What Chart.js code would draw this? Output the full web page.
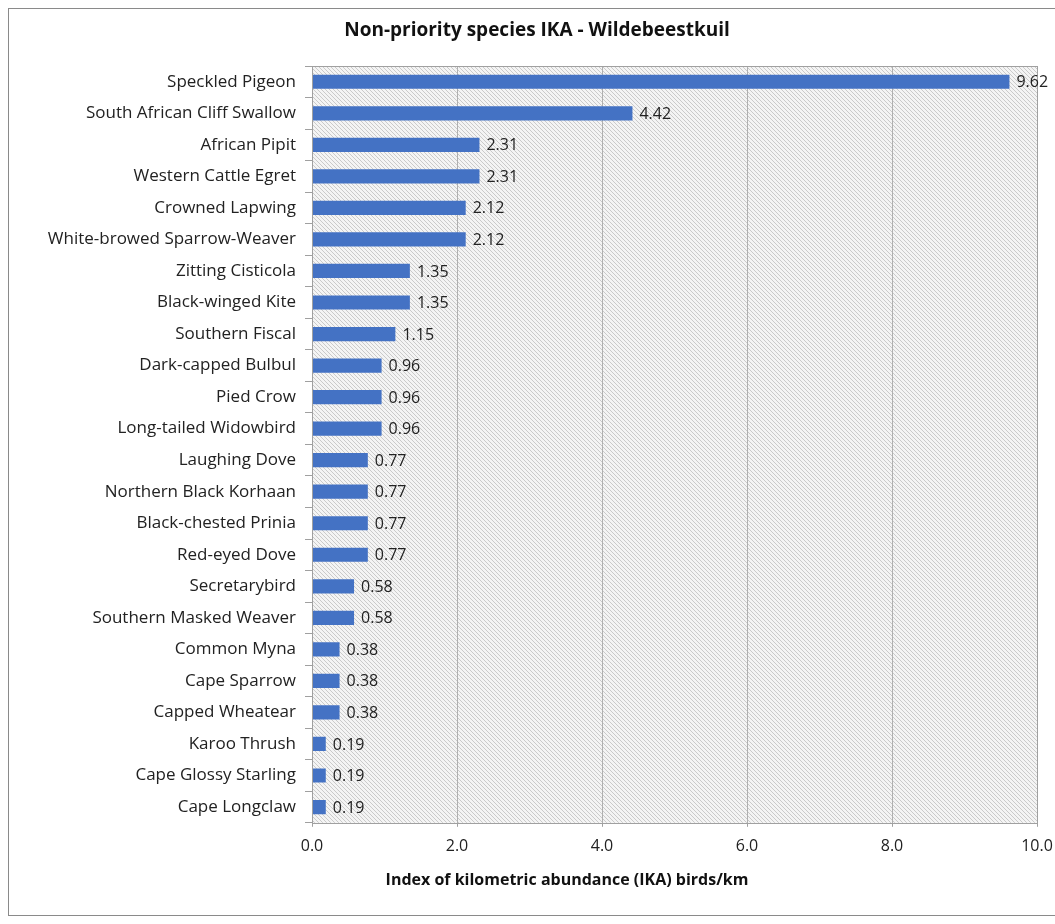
<!DOCTYPE html>
<html>
<head>
<meta charset="utf-8">
<script src="https://cdn.jsdelivr.net/npm/chart.js@4"></script>
<style>
  html, body { margin: 0; padding: 0; background: #fff; }
  #wrap { width: 1055px; height: 924px; position: relative; }
</style>
</head>
<body>
<div id="wrap"><canvas id="ikaChart" width="1055" height="924"></canvas></div>
<script>
// Species and IKA values (birds/km), top to bottom
const species = [
  "Speckled Pigeon", "South African Cliff Swallow", "African Pipit", "Western Cattle Egret",
  "Crowned Lapwing", "White-browed Sparrow-Weaver", "Zitting Cisticola", "Black-winged Kite",
  "Southern Fiscal", "Dark-capped Bulbul", "Pied Crow", "Long-tailed Widowbird",
  "Laughing Dove", "Northern Black Korhaan", "Black-chested Prinia", "Red-eyed Dove",
  "Secretarybird", "Southern Masked Weaver", "Common Myna", "Cape Sparrow",
  "Capped Wheatear", "Karoo Thrush", "Cape Glossy Starling", "Cape Longclaw"
];
const ikaValues = [
  9.62, 4.42, 2.31, 2.31, 2.12, 2.12, 1.35, 1.35,
  1.15, 0.96, 0.96, 0.96, 0.77, 0.77, 0.77, 0.77,
  0.58, 0.58, 0.38, 0.38, 0.38, 0.19, 0.19, 0.19
];
const xTicks = [0, 2, 4, 6, 8, 10];
const chartTitle = "Non-priority species IKA - Wildebeestkuil";
const xAxisTitle = "Index of kilometric abundance (IKA) birds/km";

const FONT = "'Open Sans', 'DejaVu Sans', sans-serif";
const chartCanvas = document.getElementById("ikaChart");

// small tile for the diagonal hatch behind the bars
function hatchTile() {
  const p = document.createElement("canvas");
  p.width = 4; p.height = 4;
  const c = p.getContext("2d");
  c.fillStyle = "#f4f4f4";
  c.fillRect(0, 0, 4, 4);
  c.strokeStyle = "#cacaca";
  c.lineWidth = 1;
  c.beginPath();
  c.moveTo(-1, -1); c.lineTo(5, 5);
  c.moveTo(-1, 3); c.lineTo(1, 5);
  c.moveTo(3, -1); c.lineTo(5, 1);
  c.stroke();
  return p;
}

const decor = {
  id: "decor",
  beforeDraw(chart) {
    const { ctx, chartArea: a } = chart;
    ctx.save();
    ctx.fillStyle = "#fff";
    ctx.fillRect(0, 0, chart.width, chart.height);
    // outer frame, runs off the right edge like the original
    ctx.strokeStyle = "#8a8a8a";
    ctx.lineWidth = 1;
    ctx.strokeRect(8.5, 8.5, chart.width + 20, chart.height - 17);
    ctx.fillStyle = ctx.createPattern(hatchTile(), "repeat");
    ctx.fillRect(a.left, a.top, a.right - a.left, a.bottom - a.top);
    ctx.restore();
  },
  afterDatasetsDraw(chart) {
    const { ctx, chartArea: a } = chart;
    ctx.save();
    ctx.strokeStyle = "#a0a0a0";
    ctx.lineWidth = 1;
    ctx.strokeRect(Math.round(a.left) + 0.5, Math.round(a.top) + 0.5,
      Math.round(a.right - a.left), Math.round(a.bottom - a.top));

    // value labels
    ctx.fillStyle = "#222";
    ctx.font = "16px " + FONT;
    ctx.textBaseline = "middle";
    ctx.textAlign = "left";
    chart.getDatasetMeta(0).data.forEach((bar, i) => {
      ctx.fillText(ikaValues[i].toFixed(2), bar.x + 7, bar.y + 1);
    });

    // titles
    ctx.fillStyle = "#111";
    ctx.textAlign = "center";
    ctx.font = "bold 19px " + FONT;
    ctx.fillText(chartTitle, 537, 31);
    ctx.font = "bold 16px " + FONT;
    ctx.fillText(xAxisTitle, 567, 880);
    ctx.restore();
  }
};

new Chart(chartCanvas, {
  type: "bar",
  data: {
    labels: species,
    datasets: [{
      data: ikaValues,
      backgroundColor: "#4472C4",
      categoryPercentage: 1,
      barPercentage: 0.45
    }]
  },
  options: {
    indexAxis: "y",
    responsive: false,
    animation: false,
    layout: { padding: { left: 0, right: 18, top: 66, bottom: 58 } },
    plugins: {
      legend: { display: false },
      tooltip: { enabled: false },
      title: { display: false }
    },
    scales: {
      x: {
        min: 0,
        max: 10,
        afterBuildTicks: s => { s.ticks = xTicks.map(v => ({ value: v })); },
        afterFit: s => { s.paddingLeft = 0; s.paddingRight = 0; },
        ticks: {
          color: "#222",
          font: { family: FONT, size: 16 },
          padding: 10,
          maxRotation: 0,
          callback: v => Number(v).toFixed(1)
        },
        grid: { color: "#b0b0b0", tickLength: 4, tickColor: "#a0a0a0" },
        border: { display: false }
      },
      y: {
        afterFit: s => { s.width = 312; },
        ticks: {
          color: "#222",
          font: { family: FONT, size: 17 },
          padding: 9
        },
        grid: { drawOnChartArea: false, tickLength: 7, tickColor: "#a0a0a0", offset: true },
        border: { display: false }
      }
    }
  },
  plugins: [decor]
});
</script>
</body>
</html>
